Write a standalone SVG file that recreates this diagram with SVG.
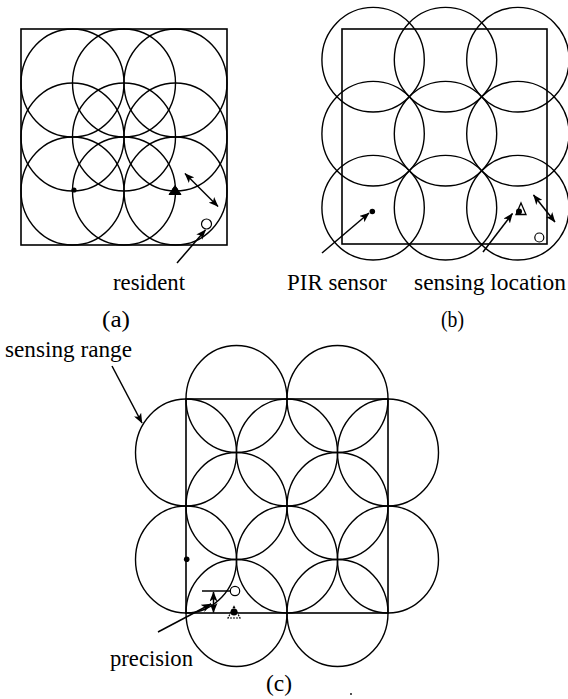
<svg xmlns="http://www.w3.org/2000/svg" width="568" height="699" viewBox="0 0 568 699">
<style>
.c{fill:none;stroke:#000;stroke-width:1.4}
.sq{fill:none;stroke:#000;stroke-width:1.6}
.t{font-family:"Liberation Serif","Times New Roman",serif;font-size:22.5px;fill:#000}
.ln{fill:none;stroke:#000;stroke-width:1.5}
.dot{fill:#000}
.oc{fill:#fff;stroke:#000;stroke-width:1.2}
</style>
<defs>
<marker id="ah" viewBox="0 0 10 8" refX="9.5" refY="4" markerWidth="10" markerHeight="8" markerUnits="userSpaceOnUse" orient="auto-start-reverse">
<path d="M0,0 L10,4 L0,8 L2.5,4 z" fill="#000"/>
</marker>
</defs>
<rect width="568" height="699" fill="#fff"/>

<g id="panel-a">
<rect class="sq" x="21" y="29" width="206" height="216"/>
<ellipse class="c" cx="72.5" cy="83" rx="51.5" ry="54"/>
<ellipse class="c" cx="124" cy="83" rx="51.5" ry="54"/>
<ellipse class="c" cx="175.5" cy="83" rx="51.5" ry="54"/>
<ellipse class="c" cx="72.5" cy="137" rx="51.5" ry="54"/>
<ellipse class="c" cx="124" cy="137" rx="51.5" ry="54"/>
<ellipse class="c" cx="175.5" cy="137" rx="51.5" ry="54"/>
<ellipse class="c" cx="72.5" cy="191" rx="51.5" ry="54"/>
<ellipse class="c" cx="124" cy="191" rx="51.5" ry="54"/>
<ellipse class="c" cx="175.5" cy="191" rx="51.5" ry="54"/>
<circle class="dot" cx="74" cy="190" r="2.6"/>
<path d="M175,185.5 L181,194.5 L169,194.5 z" fill="#000" stroke="#000" stroke-width="1"/>
<circle class="dot" cx="175" cy="190.5" r="3"/>
<circle class="oc" cx="206.5" cy="224" r="5"/>
<text class="t" x="113" y="290" textLength="72" lengthAdjust="spacingAndGlyphs">resident</text>
<text class="t" x="102" y="327" textLength="28" lengthAdjust="spacingAndGlyphs">(a)</text>
</g>

<g id="panel-b">
<rect class="sq" x="342" y="29" width="205" height="215"/>
<ellipse class="c" cx="373.1" cy="59.7" rx="51.2" ry="52.3"/>
<ellipse class="c" cx="445.5" cy="59.7" rx="51.2" ry="52.3"/>
<ellipse class="c" cx="517.9" cy="59.7" rx="51.2" ry="52.3"/>
<ellipse class="c" cx="373.1" cy="133.7" rx="51.2" ry="52.3"/>
<ellipse class="c" cx="445.5" cy="133.7" rx="51.2" ry="52.3"/>
<ellipse class="c" cx="517.9" cy="133.7" rx="51.2" ry="52.3"/>
<ellipse class="c" cx="373.1" cy="207.7" rx="51.2" ry="52.3"/>
<ellipse class="c" cx="445.5" cy="207.7" rx="51.2" ry="52.3"/>
<ellipse class="c" cx="517.9" cy="207.7" rx="51.2" ry="52.3"/>
<circle class="dot" cx="372.3" cy="211.5" r="2.8"/>
<path d="M521,203 L526,214.5 L516,214.5 z" fill="#fff" stroke="#000" stroke-width="1.3"/>
<circle class="dot" cx="519" cy="211.5" r="3"/>
<circle class="oc" cx="539.3" cy="237.5" r="4.5"/>
<text class="t" x="287" y="290" textLength="100" lengthAdjust="spacingAndGlyphs">PIR sensor</text>
<text class="t" x="414" y="290" textLength="152" lengthAdjust="spacingAndGlyphs">sensing location</text>
<text class="t" x="441" y="327" textLength="23" lengthAdjust="spacingAndGlyphs">(b)</text>
</g>

<g id="panel-c">
<rect class="sq" x="186" y="399" width="202" height="214"/>
<ellipse class="c" cx="236.5" cy="399" rx="50.5" ry="53.5"/>
<ellipse class="c" cx="337.5" cy="399" rx="50.5" ry="53.5"/>
<ellipse class="c" cx="186" cy="452.5" rx="50.5" ry="53.5"/>
<ellipse class="c" cx="186" cy="559.5" rx="50.5" ry="53.5"/>
<ellipse class="c" cx="388" cy="452.5" rx="50.5" ry="53.5"/>
<ellipse class="c" cx="388" cy="559.5" rx="50.5" ry="53.5"/>
<ellipse class="c" cx="236.5" cy="613" rx="50.5" ry="53.5"/>
<ellipse class="c" cx="337.5" cy="613" rx="50.5" ry="53.5"/>
<ellipse class="c" cx="287" cy="452.5" rx="50.5" ry="53.5"/>
<ellipse class="c" cx="236.5" cy="506" rx="50.5" ry="53.5"/>
<ellipse class="c" cx="337.5" cy="506" rx="50.5" ry="53.5"/>
<ellipse class="c" cx="287" cy="559.5" rx="50.5" ry="53.5"/>
<circle class="dot" cx="186.7" cy="559.3" r="2.8"/>
<path d="M234,606.5 L240,618 L228,618 z" fill="#fff" stroke="#000" stroke-width="1.2" stroke-dasharray="2,1"/>
<circle class="dot" cx="234" cy="612" r="3.5"/>
<circle class="oc" cx="235" cy="591" r="4.7"/>
<text class="t" x="5" y="357" textLength="127" lengthAdjust="spacingAndGlyphs">sensing range</text>
<text class="t" x="110" y="666" textLength="83" lengthAdjust="spacingAndGlyphs">precision</text>
<text class="t" x="266" y="691" textLength="26" lengthAdjust="spacingAndGlyphs">(c)</text>
<circle class="dot" cx="351" cy="694" r="0.9"/>
</g>

<g id="connectors">
<line class="ln" x1="177" y1="263" x2="205.5" y2="230" marker-end="url(#ah)"/>
<line class="ln" x1="185" y1="173.5" x2="218" y2="206.5" marker-start="url(#ah)" marker-end="url(#ah)"/>
<line class="ln" x1="322" y1="253" x2="369" y2="213" marker-end="url(#ah)"/>
<line class="ln" x1="483" y1="252" x2="512.5" y2="213.5" marker-end="url(#ah)"/>
<line class="ln" x1="533.5" y1="195" x2="555" y2="222" marker-start="url(#ah)" marker-end="url(#ah)"/>
<line class="ln" x1="112" y1="366" x2="142" y2="423" marker-end="url(#ah)"/>
<line class="ln" x1="158" y1="632" x2="211" y2="604" marker-end="url(#ah)"/>
<line class="ln" x1="213.5" y1="592" x2="213.5" y2="612.5" marker-start="url(#ah)" marker-end="url(#ah)"/>
<line class="ln" x1="202" y1="591" x2="231" y2="591" stroke-width="1.2"/>
</g>
</svg>
